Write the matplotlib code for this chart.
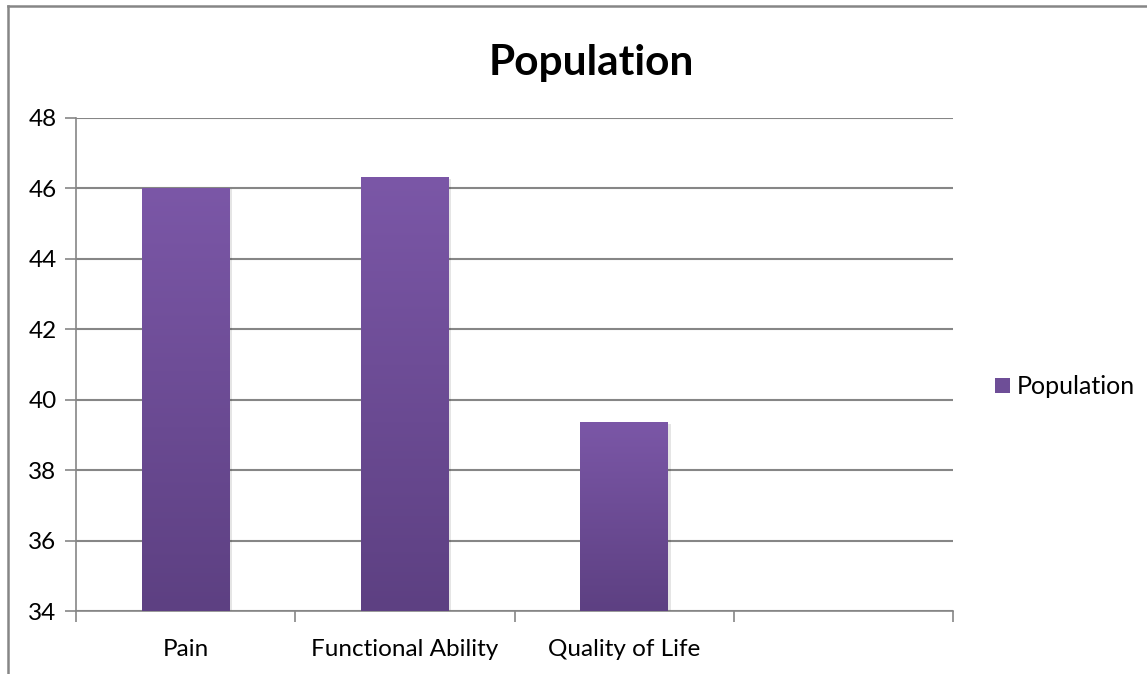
import matplotlib
matplotlib.use("Agg")
import matplotlib.pyplot as plt
import numpy as np
from matplotlib.patches import Rectangle
from matplotlib.colors import LinearSegmentedColormap

categories = ["Pain", "Functional Ability", "Quality of Life", ""]
values = [46.02, 46.33, 39.37, np.nan]
yticks = [34, 36, 38, 40, 42, 44, 46, 48]
series_name = "Population"

plt.rcParams['font.family'] = ['Lato', 'DejaVu Sans']

W, H = 1147, 674
fig = plt.figure(figsize=(W / 100, H / 100), dpi=100)
ax = fig.add_axes([76 / W, 1 - 611 / H, (953 - 76) / W, (611 - 118) / H])

x = np.arange(len(categories))

cmap = LinearSegmentedColormap.from_list("g", ["#5D4082", "#7B57A7"])
grad = np.linspace(0, 1, 256).reshape(-1, 1)
for xi, v in zip(x, values):
    if np.isnan(v):
        continue
    sh = Rectangle((xi - 0.2 + 0.012, 34), 0.4, v - 34 - 0.05, facecolor="#000000",
                   alpha=0.10, edgecolor="none", zorder=2)
    ax.add_patch(sh)
    bars = ax.bar([xi], [v - 34], bottom=34, width=0.4, color="#6E4E97", zorder=3)
    patch = bars[0]
    im = ax.imshow(grad, extent=(xi - 0.2, xi + 0.2, 34, v), origin="lower",
                   cmap=cmap, aspect="auto", zorder=4, interpolation="bilinear")
    im.set_clip_path(patch)

ax.set_xlim(-0.5, len(categories) - 0.5)
ax.set_ylim(34, 48)

ax.set_yticks(yticks)
ax.set_yticklabels([str(t) for t in yticks], fontsize=17.5)
ax.yaxis.grid(True, color="#868686", linewidth=1.5, zorder=0)
ax.set_axisbelow(True)

ax.set_xticks(np.arange(len(categories) + 1) - 0.5)
ax.set_xticklabels([])
ax.set_xticks(x, minor=True)
ax.set_xticklabels(categories, minor=True, fontsize=17.5)
ax.tick_params(axis="x", which="minor", length=0, pad=20)
ax.tick_params(axis="x", which="major", length=8, color="#868686", width=1.2)
ax.tick_params(axis="y", length=8, color="#868686", width=1.2, pad=6)

for s in ["top", "right"]:
    ax.spines[s].set_visible(False)
for s in ["left", "bottom"]:
    ax.spines[s].set_color("#868686")
    ax.spines[s].set_linewidth(1.2)

fig.text(591 / W, 1 - 75 / H, series_name, ha="center", va="baseline",
         fontsize=30.5, fontweight="bold")

# legend
fig.patches.append(Rectangle((995 / W, 1 - 393 / H), 15 / W, 15 / H,
                             transform=fig.transFigure, facecolor="#6E4E97",
                             edgecolor="none"))
fig.text(1017 / W, 1 - 386 / H, series_name, ha="left", va="center", fontsize=18)

# chart frame
fig.add_artist(plt.Line2D([8 / W, 8 / W], [0, 1 - 6 / H], transform=fig.transFigure,
                          color="#868686", linewidth=1.8))
fig.add_artist(plt.Line2D([8 / W, 1], [1 - 6 / H, 1 - 6 / H], transform=fig.transFigure,
                          color="#868686", linewidth=1.8))

fig.savefig("out.png", dpi=100)
